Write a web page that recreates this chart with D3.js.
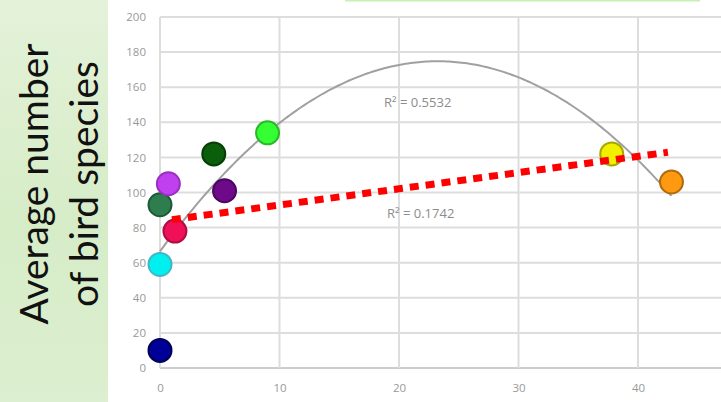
<!DOCTYPE html>
<html>
<head>
<meta charset="utf-8">
<script src="https://cdn.jsdelivr.net/npm/d3@7"></script>
<style>
  html, body { margin: 0; padding: 0; background: #fff; }
  svg { display: block; }
</style>
</head>
<body>
<svg id="chart" width="721" height="402"></svg>
<script>
// Sites: distance (x) and average number of bird species (y)
const siteX = [0, 0, 0, 0.7, 1.25, 4.5, 5.4, 9, 37.8, 42.8];
const siteY = [10, 59, 93, 105, 78, 122, 101, 134, 122, 106];
const siteColors = ["#000099", "#00f0f0", "#2e7d4e", "#c040f0", "#f0105a",
                    "#0b5e0b", "#6e0a8a", "#33ff33", "#f0f000", "#ff9a10"];
const siteStroke = ["#00005a", "#40b8c8", "#1f5a36", "#9a30c0", "#b00c44",
                    "#073d07", "#4a0660", "#2cb82c", "#a8a800", "#b06a10"];

const xTicks = [0, 10, 20, 30, 40];
const yTicks = [0, 20, 40, 60, 80, 100, 120, 140, 160, 180, 200];
const r2Labels = ["R² = 0.5532", "R² = 0.1742"];
const linearSpan = [1, 42.5];
const yTitle = ["Average number", "of bird species"];

const svg = d3.select("#chart");
const W = 721, H = 402;

// Background: pale green side panel and white chart area
const defs = svg.append("defs");
const grad = defs.append("linearGradient").attr("id", "panel")
  .attr("x1", 0).attr("y1", 0).attr("x2", 0).attr("y2", 1);
grad.append("stop").attr("offset", "0%").attr("stop-color", "#e4f2d9");
grad.append("stop").attr("offset", "55%").attr("stop-color", "#d6ecc7");
grad.append("stop").attr("offset", "100%").attr("stop-color", "#dcefd0");
svg.append("rect").attr("x", 0).attr("y", 0).attr("width", 108).attr("height", H)
  .attr("fill", "url(#panel)");
svg.append("rect").attr("x", 108).attr("y", 0).attr("width", W - 108).attr("height", H)
  .attr("fill", "#ffffff");
svg.append("rect").attr("x", 345).attr("y", 0).attr("width", 355).attr("height", 1.5)
  .attr("fill", "#c8f0b0");

const x = d3.scaleLinear().domain([0, 40]).range([160, 638]);
const y = d3.scaleLinear().domain([0, 200]).range([368, 17]);

// Gridlines
const grid = svg.append("g");
grid.selectAll("line.h").data(yTicks).join("line")
  .attr("x1", x(0)).attr("x2", W)
  .attr("y1", d => y(d)).attr("y2", d => y(d))
  .attr("stroke", d => d === 0 ? "#cccccc" : "#dddddd").attr("stroke-width", 2);
grid.selectAll("line.v").data(xTicks).join("line")
  .attr("x1", d => x(d)).attr("x2", d => x(d))
  .attr("y1", y(200)).attr("y2", y(0))
  .attr("stroke", "#dddddd").attr("stroke-width", 2);

// Axes (labels only, Excel style)
const yAxis = svg.append("g").attr("transform", `translate(${x(0) - 14},0)`)
  .call(d3.axisLeft(y).tickValues(yTicks).tickSize(0).tickPadding(0));
const xAxis = svg.append("g").attr("transform", `translate(0,${y(0) + 14})`)
  .call(d3.axisBottom(x).tickValues(xTicks).tickSize(0).tickPadding(0));
[yAxis, xAxis].forEach(a => {
  a.select(".domain").remove();
  a.selectAll("text").attr("fill", "#999999")
    .style("font-family", "'Open Sans', sans-serif").style("font-size", "11.5px");
});
xAxis.selectAll("text").attr("dy", "0.9em");

// Least-squares fits
const n = siteX.length;
function solve3(A, b) {
  const M = A.map((row, i) => [...row, b[i]]);
  for (let c = 0; c < 3; c++) {
    let p = c;
    for (let r = c + 1; r < 3; r++) if (Math.abs(M[r][c]) > Math.abs(M[p][c])) p = r;
    [M[c], M[p]] = [M[p], M[c]];
    for (let r = 0; r < 3; r++) {
      if (r === c) continue;
      const f = M[r][c] / M[c][c];
      for (let k = c; k < 4; k++) M[r][k] -= f * M[c][k];
    }
  }
  return M.map((row, i) => row[3] / row[i]);
}
const S = k => d3.sum(siteX, v => Math.pow(v, k));
const SY = k => d3.sum(siteX, (v, i) => Math.pow(v, k) * siteY[i]);
const [c0, c1, c2] = solve3(
  [[n, S(1), S(2)], [S(1), S(2), S(3)], [S(2), S(3), S(4)]],
  [SY(0), SY(1), SY(2)]
);
const mx = d3.mean(siteX), my = d3.mean(siteY);
const slope = d3.sum(siteX, (v, i) => (v - mx) * (siteY[i] - my)) /
              d3.sum(siteX, v => (v - mx) * (v - mx));
const icpt = my - slope * mx;

// Polynomial trend curve
const xMax = d3.max(siteX);
const curvePts = d3.range(0, 201).map(i => {
  const xv = xMax * i / 200;
  return [xv, c0 + c1 * xv + c2 * xv * xv];
});
svg.append("path").datum(curvePts)
  .attr("d", d3.line().x(d => x(d[0])).y(d => y(d[1])).curve(d3.curveLinear))
  .attr("fill", "none").attr("stroke", "#a0a0a0").attr("stroke-width", 2);

// Sites
svg.append("g").selectAll("circle").data(siteX.map((v, i) => i)).join("circle")
  .attr("cx", i => x(siteX[i])).attr("cy", i => y(siteY[i])).attr("r", 11.5)
  .attr("fill", i => siteColors[i]).attr("stroke", i => siteStroke[i]).attr("stroke-width", 2);

// Linear trend line
svg.append("line")
  .attr("x1", x(linearSpan[0])).attr("y1", y(icpt + slope * linearSpan[0]))
  .attr("x2", x(linearSpan[1])).attr("y2", y(icpt + slope * linearSpan[1]))
  .attr("stroke", "#ff0000").attr("stroke-width", 7).attr("stroke-dasharray", "9,7");

// R² labels
const lbl = svg.append("g").style("font-family", "'Open Sans', sans-serif")
  .style("font-size", "13px").attr("fill", "#8c8c8c");
lbl.append("text").attr("x", 384).attr("y", 107).text(r2Labels[0]);
lbl.append("text").attr("x", 387).attr("y", 218).text(r2Labels[1]);

// Y axis title
const t = svg.append("g").attr("transform", "translate(0,184) rotate(-90)")
  .style("font-family", "Lato, 'Open Sans', sans-serif").style("font-size", "39px")
  .attr("fill", "#111");
t.append("text").attr("x", 0).attr("y", 48).attr("text-anchor", "middle").text(yTitle[0]);
t.append("text").attr("x", 0).attr("y", 98).attr("text-anchor", "middle").text(yTitle[1]);
</script>
</body>
</html>
